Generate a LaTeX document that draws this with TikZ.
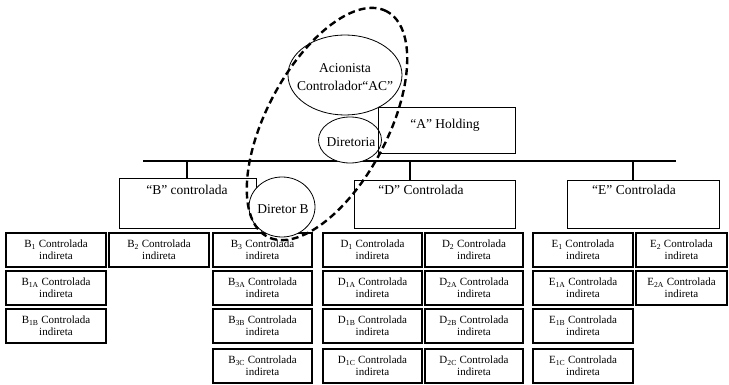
\documentclass[tikz,border=0pt]{standalone}
\usepackage{fontspec}
\setmainfont{Liberation Serif}
\usetikzlibrary{shapes.geometric}
\begin{document}
\begin{tikzpicture}[x=1pt,y=-1pt,
  sbox/.style={draw, line width=1.1pt, minimum width=100pt, minimum height=34pt, inner sep=0pt, align=center, font=\fontsize{11}{12}\selectfont},
  bbox/.style={draw, line width=0.9pt, inner sep=0pt},
  btext/.style={font=\fontsize{13.5}{17.5}\selectfont, inner sep=0pt, align=center},
  oval/.style={draw, ellipse, line width=0.8pt, fill=white, inner sep=0pt},
  busline/.style={line width=2pt},
  dropline/.style={line width=1.2pt},
  hl/.style={draw, ellipse, dash pattern=on 7pt off 4pt, line width=2.4pt, inner sep=0pt}
]
\useasboundingbox (0,0) rectangle (729,385);
\clip (0,0) rectangle (729,385);

% bus and drops
\coordinate (busL) at (143,161);
\coordinate (busR) at (676,161);
\coordinate (dB) at (187,161);
\coordinate (dD) at (410,161);
\coordinate (dE) at (633,161);

% big boxes
\node[bbox, minimum width=137pt, minimum height=50pt] (B) at (187.5,203) {};
\node[bbox, minimum width=161pt, minimum height=48pt] (D) at (434.5,204) {};
\node[bbox, minimum width=152pt, minimum height=48pt] (E) at (643,204) {};
\node[btext] (Bt) at (187,190) {“B” controlada};
\node[btext] (Dt) at (421,190) {“D” Controlada};
\node[btext] (Et) at (634,190) {“E” Controlada};

\draw[busline] (busL) -- (busR);
\draw[dropline] (dB) -- (dB |- B.north);
\draw[dropline] (dD) -- (dD |- D.north);
\draw[dropline] (dE) -- (dE |- E.north);

% small boxes
\node[sbox] (B1) at (56,250) {B\textsubscript{1} Controlada\\indireta};
\node[sbox] (B1A) at (56,288) {B\textsubscript{1A} Controlada\\indireta};
\node[sbox] (B1B) at (56,326) {B\textsubscript{1B} Controlada\\indireta};
\node[sbox] (B2) at (159,250) {B\textsubscript{2} Controlada\\indireta};
\node[sbox, minimum width=99pt] (B3) at (262.5,250) {B\textsubscript{3} Controlada\\indireta};
\node[sbox, minimum width=99pt] (B3A) at (262.5,288) {B\textsubscript{3A} Controlada\\indireta};
\node[sbox, minimum width=99pt] (B3B) at (262.5,326) {B\textsubscript{3B} Controlada\\indireta};
\node[sbox, minimum width=99pt] (B3C) at (262.5,366) {B\textsubscript{3C} Controlada\\indireta};
\node[sbox, minimum width=99pt] (D1) at (372.5,250) {D\textsubscript{1} Controlada\\indireta};
\node[sbox, minimum width=99pt] (D1A) at (372.5,288) {D\textsubscript{1A} Controlada\\indireta};
\node[sbox, minimum width=99pt] (D1B) at (372.5,326) {D\textsubscript{1B} Controlada\\indireta};
\node[sbox, minimum width=99pt] (D1C) at (372.5,366) {D\textsubscript{1C} Controlada\\indireta};
\node[sbox, minimum width=98pt] (D2) at (474,250) {D\textsubscript{2} Controlada\\indireta};
\node[sbox, minimum width=98pt] (D2A) at (474,288) {D\textsubscript{2A} Controlada\\indireta};
\node[sbox, minimum width=98pt] (D2B) at (474,326) {D\textsubscript{2B} Controlada\\indireta};
\node[sbox, minimum width=98pt] (D2C) at (474,366) {D\textsubscript{2C} Controlada\\indireta};
\node[sbox] (E1) at (583,250) {E\textsubscript{1} Controlada\\indireta};
\node[sbox] (E1A) at (583,288) {E\textsubscript{1A} Controlada\\indireta};
\node[sbox] (E1B) at (583,326) {E\textsubscript{1B} Controlada\\indireta};
\node[sbox] (E1C) at (583,366) {E\textsubscript{1C} Controlada\\indireta};
\node[sbox, minimum width=91pt] (E2) at (681.5,250) {E\textsubscript{2} Controlada\\indireta};
\node[sbox, minimum width=91pt] (E2A) at (681.5,288) {E\textsubscript{2A} Controlada\\indireta};

% ellipses
\node[oval, minimum width=114pt, minimum height=80pt] (AC) at (345,75) {};
\node[btext] (ACt) at (345,77) {Acionista\\Controlador“AC”};
\node[oval, minimum width=63pt, minimum height=46pt] (Dir) at (350,140) {};
\node[btext] (Dirt) at (351,142) {Diretoria};
\node[bbox, minimum width=137pt, minimum height=46pt] (A) at (446.5,130) {};
\node[btext] (At) at (445,125) {“A” Holding};
\node[oval, minimum width=66pt, minimum height=60pt] (DB) at (282,207) {};
\node[btext] (DBt) at (283,209) {Diretor B};

% highlight
\node[hl, minimum width=255pt, minimum height=121pt, rotate=62] (HL) at (327,124) {};
\end{tikzpicture}
\end{document}
